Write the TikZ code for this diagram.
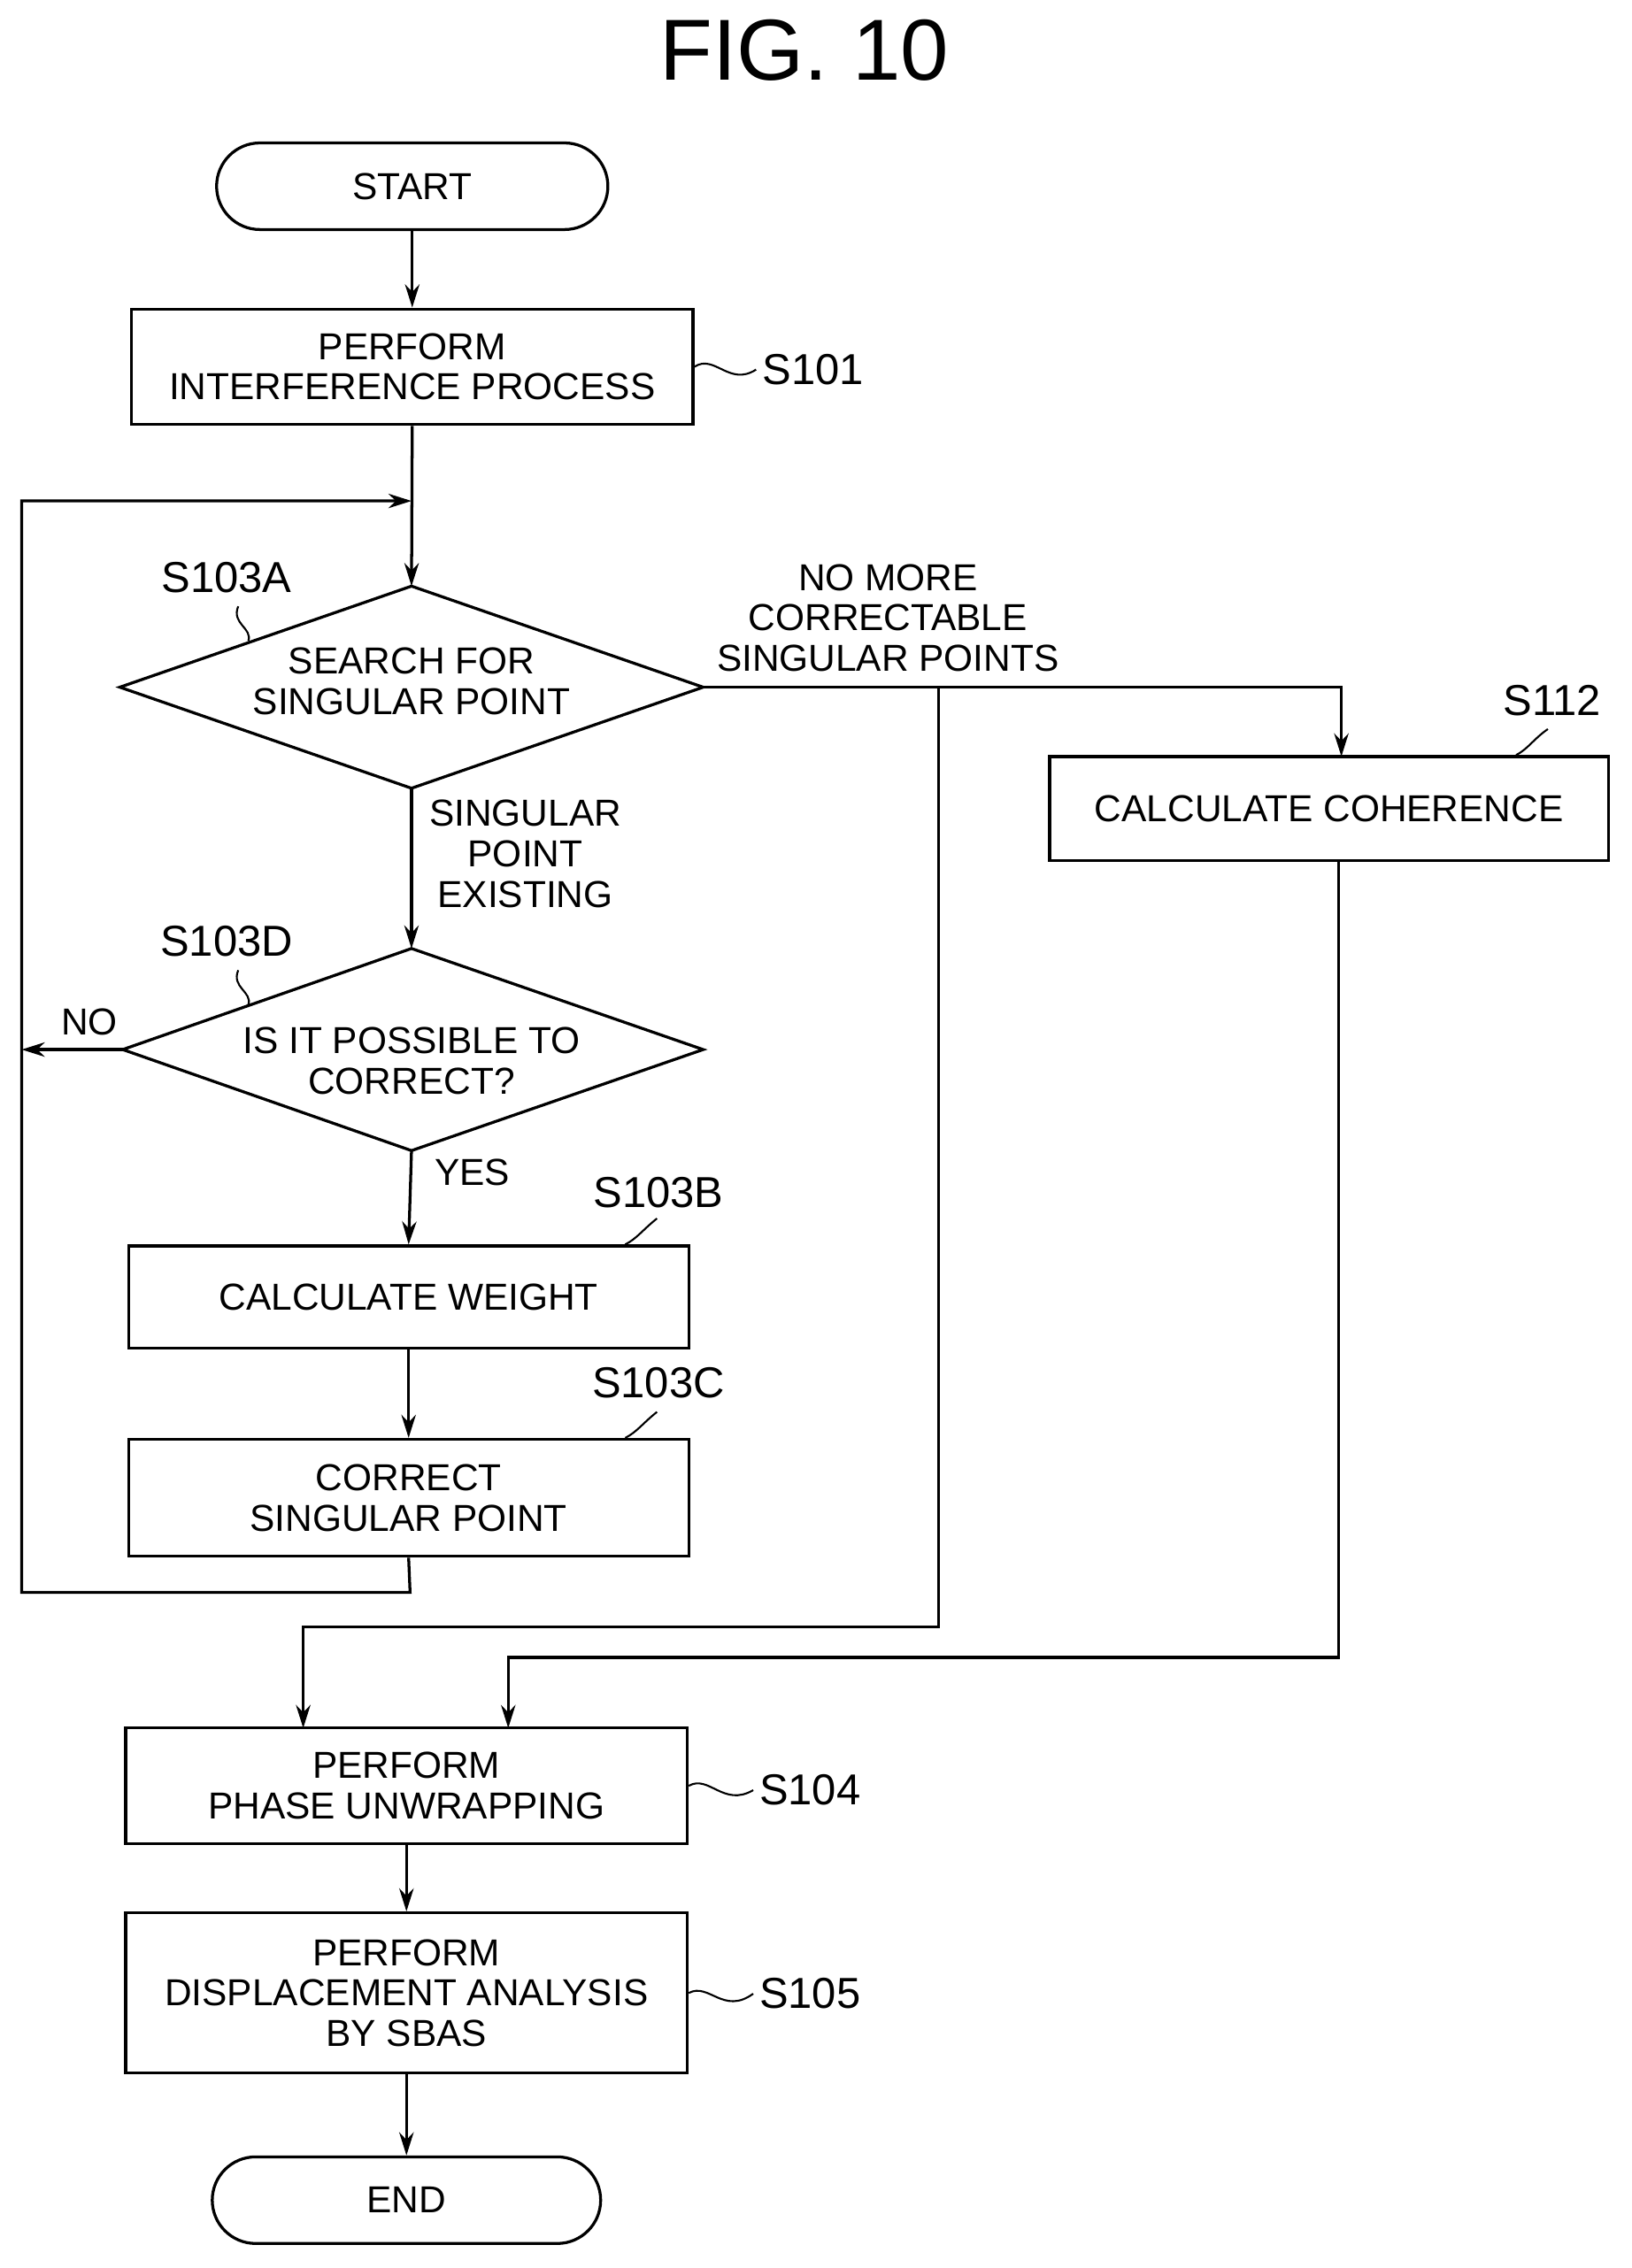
\documentclass[tikz,border=0pt]{standalone}
\usepackage{fontspec}
\setmainfont{Liberation Sans}
\usetikzlibrary{shapes.geometric,arrows.meta}
\begin{document}
\begin{tikzpicture}[x=1pt,y=-1pt,line width=2pt,
  txt/.style={font=\fontsize{26}{28}\selectfont,align=center},
  box/.style={draw,rectangle,txt,inner sep=0pt},
  term/.style={draw,rounded corners=30pt,txt,inner sep=0pt},
  dia/.style={draw,diamond,txt,inner sep=0pt},
  lbl/.style={font=\fontsize{30}{32}\selectfont},
  arr/.style={-{Stealth[length=16pt,width=10pt]}},
  sq/.style={line width=1.3pt}]
\useasboundingbox (0,0) rectangle (1130,1571);
\node[font=\fontsize{60}{62}\selectfont] (title) at (557,35) {FIG. 10};
\node[term,minimum width=271pt,minimum height=60pt] (start) at (285.5,129) {START};
\node[box,minimum width=389pt,minimum height=80pt] (s101) at (285.5,254) {PERFORM\\INTERFERENCE PROCESS};
\node[lbl] (l101) at (563,256) {S101};
\draw[sq] (s101.east) .. controls (495,245) and (505,268) .. (l101.west);
\coordinate (j1) at (285,347);
\coordinate (lt) at (15,347);
\coordinate (lb) at (15,1103);
\path (285,406) coordinate (at) (487,476) coordinate (ar) (285,546) coordinate (ab) (83,476) coordinate (al);
\draw (at)--(ar)--(ab)--(al)--cycle;
\node[txt] (a) at (285,472) {SEARCH FOR\\SINGULAR POINT};
\node[lbl] (la) at (157,400) {S103A};
\draw[sq] (165,420) .. controls (160,432) and (175,435) .. (172,444);
\path (285,657) coordinate (dt) (487,727) coordinate (dr) (285,797) coordinate (db) (85,727) coordinate (dl);
\draw (dt)--(dr)--(db)--(dl)--cycle;
\node[txt] (d) at (285,735) {IS IT POSSIBLE TO\\CORRECT?};
\node[lbl] (ld) at (157,652) {S103D};
\draw[sq] (165,672) .. controls (160,684) and (175,687) .. (172,696);
\node[box,minimum width=388pt,minimum height=71pt] (s103b) at (283,898.5) {CALCULATE WEIGHT};
\node[lbl] (lb3) at (456,826) {S103B};
\draw[sq] (s103b.north east) ++(-45,0) .. controls ++(8,-4) and ++(-10,8) .. ++(22,-18);
\node[box,minimum width=388pt,minimum height=81pt] (s103c) at (283,1037.5) {CORRECT\\SINGULAR POINT};
\node[lbl] (lc3) at (456,958) {S103C};
\draw[sq] (s103c.north east) ++(-45,0) .. controls ++(8,-4) and ++(-10,8) .. ++(22,-18);
\node[box,minimum width=387pt,minimum height=72pt] (s112) at (920.5,560) {CALCULATE COHERENCE};
\node[lbl] (l112) at (1075,485) {S112};
\draw[sq] (1050,523) .. controls (1058,519) and (1062,512) .. (1072,505);
\node[box,minimum width=389pt,minimum height=80pt] (s104) at (281.5,1237) {PERFORM\\PHASE UNWRAPPING};
\node[lbl] (l104) at (561,1240) {S104};
\draw[sq] (s104.east) .. controls (491,1229) and (501,1252) .. (l104.west);
\node[box,minimum width=389pt,minimum height=111pt] (s105) at (281.5,1380.5) {PERFORM\\DISPLACEMENT ANALYSIS\\BY SBAS};
\node[lbl] (l105) at (561,1381) {S105};
\draw[sq] (s105.east) .. controls (491,1373) and (501,1396) .. (l105.west);
\node[term,minimum width=269pt,minimum height=60pt] (end) at (281.5,1524) {END};
% connectors
\draw[arr] (start) -- (s101);
\draw[arr] (s101.south) -- (at);
\draw[arr] (s103c.south) -- (284,1103) -- (lb) -- (lt) -- (j1);
\draw[arr] (ab) -- (dt);
\node[txt,anchor=north west] (se) at (293,550) {SINGULAR\\POINT\\EXISTING};
\draw[arr] (dl) -- (15,727);
\node[txt] (no) at (62,708) {NO};
\draw[arr] (db) -- (s103b.north);
\node[txt] (yes) at (327,812) {YES};
\draw[arr] (s103b) -- (s103c);
\draw[arr] (ar) -- (929,476) -- (929,524);
\node[txt] (nm) at (615,428) {NO MORE\\CORRECTABLE\\SINGULAR POINTS};
\draw[arr] (650,476) -- (650,1127) -- (210,1127) -- (210,1197);
\draw[arr] (s112.south -| 927,0) -- (927,1148) -- (352,1148) -- (352,1197);
\draw[arr] (s104) -- (s105);
\draw[arr] (s105) -- (end);
\end{tikzpicture}
\end{document}
